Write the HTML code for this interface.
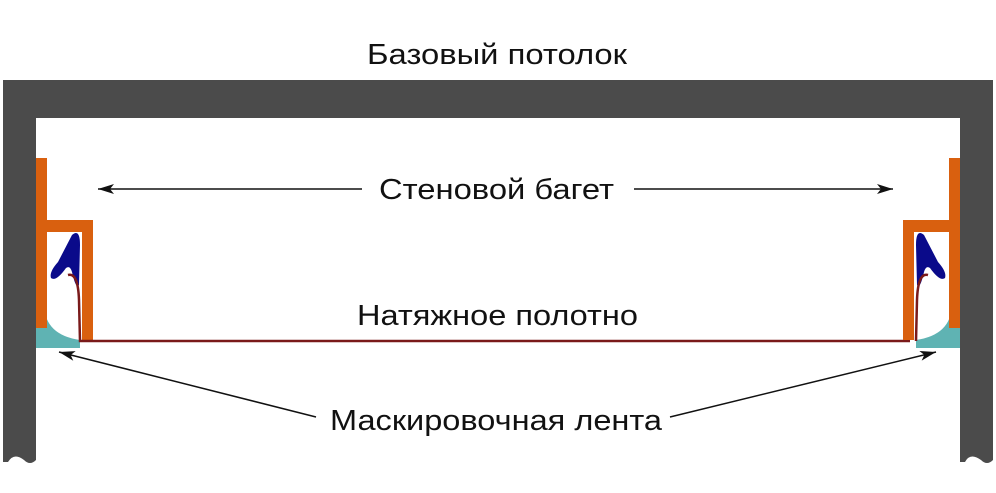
<!DOCTYPE html>
<html><head><meta charset="utf-8"><style>
html,body{margin:0;padding:0;background:#fff;}
svg{display:block}
text{font-family:"Liberation Sans",Arial,sans-serif;fill:#111;}
</style></head><body>
<svg width="996" height="493" viewBox="0 0 996 493" xmlns="http://www.w3.org/2000/svg">
<defs>
<marker id="ah" markerWidth="16" markerHeight="10" refX="16" refY="5" orient="auto" markerUnits="userSpaceOnUse">
<path d="M16,5 L0,0 L4,5 L0,10 Z" fill="#111"/>
</marker>
</defs>
<path d="M3,80 H993 V460 Q987,466 981,460 Q970,452 965,462 L960,462 V118 H36 V460 Q30,466 24,460 Q14,452 8,462 L3,462 Z" fill="#4b4b4b"/>
<path d="M36,305 H44 Q45,335 80,340 L80,348 H36 Z" fill="#5fb3b3"/>
<path d="M960,305 H952 Q951,335 916,340 L916,348 H960 Z" fill="#5fb3b3"/>
<path d="M36,158 H47 V220 H93 V340 H82 V232 H47 V328 H36 Z" fill="#d9600f"/>
<path d="M72,235 Q80,228 80,245 L79,285 Q76,290 72,272 Q70,265 66,268 Q56,282 51,278 Q49,272 58,262 Z" fill="#0a0a8a"/>
<path d="M68,275 Q78,272 79,300 L80,341 L910,341" fill="none" stroke="#7a1a1a" stroke-width="2.5"/>
<path d="M960,158 H949 V220 H903 V340 H914 V232 H949 V328 H960 Z" fill="#d9600f"/>
<path d="M924,235 Q916,228 916,245 L917,285 Q920,290 924,272 Q926,265 930,268 Q940,282 945,278 Q947,272 938,262 Z" fill="#0a0a8a"/>
<path d="M928,275 Q918,272 917,300 L916,341" fill="none" stroke="#7a1a1a" stroke-width="2.5"/>
<text x="367" y="64" font-size="29" textLength="260" lengthAdjust="spacingAndGlyphs">Базовый потолок</text>
<text x="379" y="199" font-size="29" textLength="235" lengthAdjust="spacingAndGlyphs">Стеновой багет</text>
<text x="357" y="325" font-size="29" textLength="281" lengthAdjust="spacingAndGlyphs">Натяжное полотно</text>
<text x="330" y="430" font-size="29" textLength="332" lengthAdjust="spacingAndGlyphs">Маскировочная лента</text>
<line x1="362" y1="189" x2="98" y2="189" stroke="#111" stroke-width="1.5" marker-end="url(#ah)"/>
<line x1="634" y1="189" x2="893" y2="189" stroke="#111" stroke-width="1.5" marker-end="url(#ah)"/>
<line x1="316" y1="417" x2="59" y2="352" stroke="#111" stroke-width="1.5" marker-end="url(#ah)"/>
<line x1="670" y1="417" x2="936" y2="352" stroke="#111" stroke-width="1.5" marker-end="url(#ah)"/>
</svg>
</body></html>
